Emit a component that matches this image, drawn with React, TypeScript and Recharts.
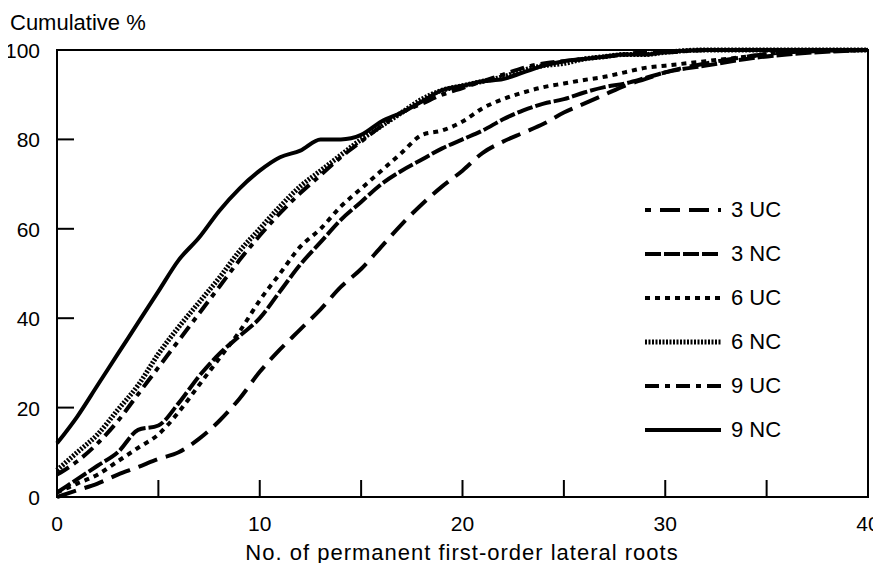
import React from 'react';
import { LineChart, Line, XAxis, YAxis, ReferenceArea, Legend } from 'recharts';

const roots = [0, 1, 2, 3, 4, 5, 6, 7, 8, 9, 10, 11, 12, 13, 14, 15, 16, 17, 18, 19, 20, 21, 22, 23, 24, 25, 26, 27, 28, 29, 30, 32, 34, 36, 40];

const uc3 = [0, 1.5, 3, 5, 6.7, 8.5, 10, 13, 17, 22, 28, 33, 37.5, 42, 47, 51, 56, 61, 65.5, 69.5, 73, 77, 79.5, 81.5, 83.5, 86, 88, 90, 92, 93.5, 95, 97, 98.5, 99.5, 100];
const nc3 = [1, 4, 7, 10, 15, 16, 21, 27, 32, 36, 40, 46, 52, 57, 62, 66, 70, 73, 75.5, 78, 80, 82, 84.5, 86.5, 88, 89, 90.5, 91.7, 92.5, 93.7, 95, 96.5, 98, 99, 100];
const uc6 = [1, 3, 5, 8, 11, 14, 19, 25, 31, 37, 44, 50, 56, 60, 65, 69, 73, 77, 81, 82, 84, 87, 89, 90.5, 91.7, 92.5, 93.3, 94, 95, 96, 96.5, 97.5, 98.5, 99.5, 100];
const nc6 = [6, 10, 14, 19.5, 25, 32, 38, 43.5, 49, 55, 60, 65, 69.5, 73, 76.5, 80, 83, 86, 89, 91, 92, 93, 94, 95.5, 96.5, 97, 98, 98.5, 99, 99, 99.5, 100, 100, 100, 100];
const uc9 = [5, 8, 12, 17, 23, 29, 35, 41, 47, 53, 58.5, 63.5, 68, 72, 76, 79.5, 83, 86, 88, 90, 91.5, 93, 94.5, 96, 97, 97.5, 98, 98.5, 99, 99.5, 99.5, 100, 100, 100, 100];
const nc9 = [12, 18, 25, 32, 39, 46, 53, 58, 64, 69, 73, 76, 77.5, 80, 80, 81, 84, 86, 88.5, 91, 92, 93, 93.5, 95, 96.5, 97.5, 98, 98.5, 99, 99, 99.5, 100, 100, 100, 100];

const xTicks = [0, 5, 10, 15, 20, 25, 30, 35, 40];
const yTicks = [0, 20, 40, 60, 80, 100];

const series = [
  { key: 'uc3', name: '3 UC', dash: '20 9', width: 4, legendOffset: 14 },
  { key: 'nc3', name: '3 NC', dash: '16 3', width: 4, legendOffset: 0 },
  { key: 'uc6', name: '6 UC', dash: '5 5', width: 4, legendOffset: 0 },
  { key: 'nc6', name: '6 NC', dash: '2 1.5', width: 5, legendOffset: 0 },
  { key: 'uc9', name: '9 UC', dash: '14 6 5 6', width: 4, legendOffset: 0 },
  { key: 'nc9', name: '9 NC', dash: undefined, width: 4, legendOffset: 0 },
];

const data = roots.map((x, i) => ({
  x,
  uc3: uc3[i],
  nc3: nc3[i],
  uc6: uc6[i],
  nc6: nc6[i],
  uc9: uc9[i],
  nc9: nc9[i],
}));

const FONT = '"Liberation Sans", Arial, Helvetica, sans-serif';
const TICK_LEN = 17;

const XTick = ({ x, y, payload }: any) => (
  <g>
    <line x1={x} x2={x} y1={y} y2={y - TICK_LEN} stroke="#000" strokeWidth={2} />
    {payload.value % 10 === 0 && (
      <text x={x} y={y + 34} textAnchor="middle" fontSize={21} fontFamily={FONT} fill="#000">
        {payload.value}
      </text>
    )}
  </g>
);

const YTickLeft = ({ x, y, payload }: any) => (
  <g>
    {payload.value > 0 && payload.value < 100 && (
      <line x1={x} x2={x + TICK_LEN} y1={y} y2={y} stroke="#000" strokeWidth={2} />
    )}
    <text x={x - 17} y={y + 8} textAnchor="end" fontSize={21} fontFamily={FONT} fill="#000">
      {payload.value}
    </text>
  </g>
);

const YTickRight = ({ x, y, payload }: any) =>
  payload.value > 0 && payload.value < 100 ? (
    <line x1={x - TICK_LEN} x2={x} y1={y} y2={y} stroke="#000" strokeWidth={2} />
  ) : (
    <g />
  );

const renderLegend = () => (
  <div style={{ fontFamily: FONT, fontSize: 22, color: '#000' }}>
    {series.map((s) => (
      <div key={s.key} style={{ display: 'flex', alignItems: 'center', height: 44 }}>
        <svg width={78} height={10} style={{ display: 'block' }}>
          <line
            x1={0}
            x2={76}
            y1={5}
            y2={5}
            stroke="#000"
            strokeWidth={s.width}
            strokeDasharray={s.dash}
            strokeDashoffset={s.legendOffset}
          />
        </svg>
        <span style={{ marginLeft: 8 }}>{s.name}</span>
      </div>
    ))}
  </div>
);

export default function App() {
  return (
    <div style={{ position: 'relative', width: 865, height: 555, fontFamily: FONT }}>
      <style>
        {'html, body { overflow: hidden; } .recharts-wrapper, .recharts-surface { overflow: visible !important; }'}
      </style>
      <div style={{ position: 'absolute', left: 2, top: 4, fontSize: 22, lineHeight: '22px', color: '#000' }}>
        Cumulative %
      </div>
      <LineChart
        width={865}
        height={555}
        data={data}
        margin={{ top: 42, right: 5, left: 0, bottom: 0 }}
        style={{ overflow: 'visible' }}
      >
        <XAxis
          dataKey="x"
          type="number"
          domain={[0, 40]}
          ticks={xTicks}
          interval={0}
          height={66}
          tickSize={0}
          tickMargin={0}
          tickLine={false}
          axisLine={{ stroke: '#000', strokeWidth: 2 }}
          tick={<XTick />}
        />
        <YAxis
          type="number"
          domain={[0, 100]}
          ticks={yTicks}
          interval={0}
          width={49}
          tickSize={0}
          tickMargin={0}
          tickLine={false}
          axisLine={{ stroke: '#000', strokeWidth: 2 }}
          tick={<YTickLeft />}
        />
        <YAxis
          yAxisId="right"
          orientation="right"
          type="number"
          domain={[0, 100]}
          allowDataOverflow
          ticks={yTicks}
          interval={0}
          width={0}
          tickSize={0}
          tickMargin={0}
          tickLine={false}
          axisLine={false}
          tick={<YTickRight />}
        />
        <ReferenceArea x1={0} x2={40} y1={0} y2={100} fill="none" stroke="#000" strokeWidth={2} />
        {series.map((s) => (
          <Line
            key={s.key}
            type="monotone"
            dataKey={s.key}
            name={s.name}
            stroke="#000"
            strokeWidth={s.width}
            strokeDasharray={s.dash}
            dot={false}
            activeDot={false}
            isAnimationActive={false}
          />
        ))}
        <Legend
          layout="vertical"
          align="center"
          verticalAlign="middle"
          content={renderLegend}
          wrapperStyle={{ position: 'absolute', left: 637, top: 180, width: 160 }}
        />
      </LineChart>
      <div
        style={{
          position: 'absolute',
          left: 0,
          width: 908,
          top: 534,
          textAlign: 'center',
          fontSize: 22,
          lineHeight: '22px',
          letterSpacing: 1,
          color: '#000',
        }}
      >
        No. of permanent first-order lateral roots
      </div>
    </div>
  );
}
